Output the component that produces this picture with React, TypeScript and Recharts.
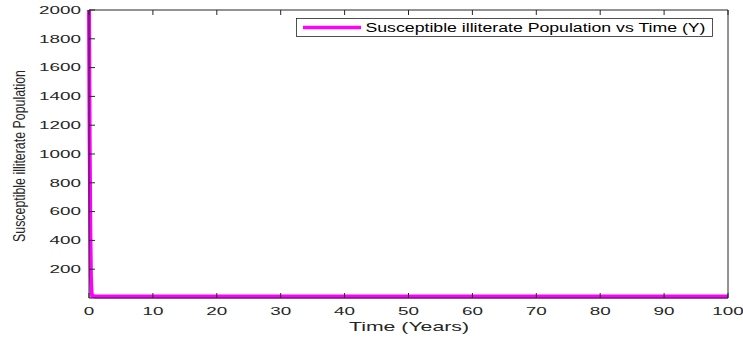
import React from 'react';
import { LineChart, Line, XAxis, YAxis, Legend } from 'recharts';

// ---- data ----
const timeYears = [0, 0.1, 0.2, 0.3, 0.4, 0.5, 1, 2, 5, 10, 20, 30, 40, 50, 60, 70, 80, 90, 100];
const susceptibleIlliterate = [2000, 1100, 500, 150, 40, 14, 10, 10, 10, 10, 10, 10, 10, 10, 10, 10, 10, 10, 10];
const xTicks = [0, 10, 20, 30, 40, 50, 60, 70, 80, 90, 100];
const yTicks = [200, 400, 600, 800, 1000, 1200, 1400, 1600, 1800, 2000];
const seriesName = 'Susceptible illiterate Population vs Time (Y)';
const xLabel = 'Time (Years)';
const yLabel = 'Susceptible illiterate Population';

const data = timeYears.map((t, i) => ({ t, y: susceptibleIlliterate[i] }));

// ---- styles ----
const AX = '#262626';
const MAG = '#ff00ff';
const FONT = '"Liberation Sans", Arial, Helvetica, sans-serif';
const DIGIT_W = 10.5;

const LeftTick = (props: any) => {
  const { x, y, payload } = props;
  const s = String(payload.value);
  return (
    <g>
      <line x1={x + 8} y1={y} x2={x + 14} y2={y} stroke={AX} strokeWidth={1} />
      <text x={x} y={y} dy={3.8} textAnchor="end" fontSize={10.5} fontFamily={FONT} fill={AX}
        textLength={s.length * DIGIT_W} lengthAdjust="spacingAndGlyphs">{s}</text>
    </g>
  );
};

const RightTick = (props: any) => {
  const { x, y } = props;
  return <line x1={x} y1={y} x2={x - 6} y2={y} stroke={AX} strokeWidth={1} />;
};

const BottomTick = (props: any) => {
  const { x, y, payload } = props;
  const s = String(payload.value);
  return (
    <g>
      <line x1={x} y1={y} x2={x} y2={y - 5} stroke={AX} strokeWidth={1} />
      <text x={x} y={y + 17} textAnchor="middle" fontSize={10.5} fontFamily={FONT} fill={AX}
        textLength={s.length * DIGIT_W} lengthAdjust="spacingAndGlyphs">{s}</text>
    </g>
  );
};

const TopTick = (props: any) => {
  const { x, y } = props;
  return <line x1={x} y1={y} x2={x} y2={y + 5} stroke={AX} strokeWidth={1} />;
};

const YLabel = (props: any) => {
  const vb = props.viewBox || { x: 0, y: 10, width: 89, height: 288 };
  const cx = vb.x + 25;
  const cy = vb.y + vb.height / 2 + 2;
  return (
    <text x={cx} y={cy} transform={`rotate(-90, ${cx}, ${cy})`} textAnchor="middle" fontSize={16}
      fontFamily={FONT} fill={AX} textLength={172} lengthAdjust="spacingAndGlyphs">{yLabel}</text>
  );
};

const XLabel = (props: any) => {
  const vb = props.viewBox || { x: 89, y: 298, width: 639, height: 42 };
  return (
    <text x={vb.x + vb.width / 2 + 0.5} y={vb.y + 33} textAnchor="middle" fontSize={13}
      fontFamily={FONT} fill={AX} textLength={120} lengthAdjust="spacingAndGlyphs">{xLabel}</text>
  );
};

const LegendBox = () => (
  <svg width={417} height={19} style={{ display: 'block' }}>
    <rect x={0.5} y={0.5} width={416} height={18} fill="#fff" stroke={AX} strokeWidth={0.8} />
    <line x1={7} x2={65} y1={9.5} y2={9.5} stroke={MAG} strokeWidth={3.5} />
    <text x={69.5} y={14.2} fontSize={12} fontFamily={FONT} fill="#000"
      textLength={340} lengthAdjust="spacingAndGlyphs">{seriesName}</text>
  </svg>
);

export default function App() {
  return (
    <div style={{ position: 'absolute', left: 0, top: 0, width: 743, height: 340, background: '#fff' }}>
      <LineChart width={743} height={340} data={data} margin={{ top: 9, right: 14, left: 0, bottom: 0 }}>
        <XAxis xAxisId="b" dataKey="t" type="number" domain={[0, 100]} ticks={xTicks} interval={0}
          height={42} tickSize={0} tickMargin={0} tickLine={false} axisLine={{ stroke: AX, strokeWidth: 1 }}
          tick={<BottomTick />} label={<XLabel />} />
        <XAxis xAxisId="t" orientation="top" dataKey="t" type="number" domain={[0, 100]} ticks={xTicks} interval={0}
          height={1} tickSize={0} tickMargin={0} tickLine={false} axisLine={{ stroke: AX, strokeWidth: 1 }}
          tick={<TopTick />} />
        <YAxis yAxisId="l" type="number" domain={[0, 2000]} ticks={yTicks} interval={0} width={89}
          tickSize={0} tickMargin={8} tickLine={false} axisLine={{ stroke: AX, strokeWidth: 1 }}
          tick={<LeftTick />} label={<YLabel />} />
        <YAxis yAxisId="r" orientation="right" type="number" domain={[0, 2000]} ticks={yTicks} interval={0} width={1}
          tickSize={0} tickMargin={0} tickLine={false} axisLine={{ stroke: AX, strokeWidth: 1 }}
          tick={<RightTick />} />
        <Legend layout="vertical" align="center" verticalAlign="middle" content={<LegendBox />}
          wrapperStyle={{ left: 296, top: 18, width: 417, height: 19, margin: 0, padding: 0 }} />
        <Line xAxisId="b" yAxisId="l" type="linear" dataKey="y" name={seriesName} stroke={MAG}
          strokeWidth={4} dot={false} activeDot={false} isAnimationActive={false} />
      </LineChart>
    </div>
  );
}
